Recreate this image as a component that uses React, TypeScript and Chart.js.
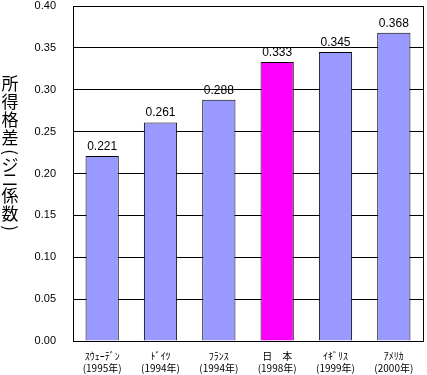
import React, { useEffect, useRef } from "react";
import { Chart, registerables } from "chart.js";

Chart.register(...registerables);

const countries: string[] = ["ｽｳｪｰﾃﾞﾝ", "ﾄﾞｲﾂ", "ﾌﾗﾝｽ", "日　本", "ｲｷﾞﾘｽ", "ｱﾒﾘｶ"];
const years: string[] = ["(1995年)", "(1994年)", "(1994年)", "(1998年)", "(1999年)", "(2000年)"];
const gini: number[] = [0.221, 0.261, 0.288, 0.333, 0.345, 0.368];
const barColors: string[] = ["#9999FF", "#9999FF", "#9999FF", "#FF00FF", "#9999FF", "#9999FF"];
const yTitle = "所得格差(ジニ係数)";

const frameAndLabels = {
  id: "frameAndLabels",
  afterDatasetsDraw(chart: any) {
    const { ctx, chartArea } = chart;
    ctx.save();
    // value labels
    const meta = chart.getDatasetMeta(0);
    ctx.fillStyle = "#000";
    ctx.font = "12px 'Liberation Sans', Arial, sans-serif";
    ctx.textAlign = "center";
    ctx.textBaseline = "alphabetic";
    meta.data.forEach((bar: any, i: number) => {
      ctx.fillText(gini[i].toFixed(3), bar.x, bar.y - 6);
    });
    // frame
    ctx.strokeStyle = "#000";
    ctx.lineWidth = 1;
    ctx.strokeRect(
      Math.round(chartArea.left) + 0.5,
      Math.round(chartArea.top) + 0.5,
      Math.round(chartArea.right - chartArea.left),
      Math.round(chartArea.bottom - chartArea.top)
    );
    // vertical title
    ctx.font = "17px 'Noto Sans CJK JP', sans-serif";
    ctx.textAlign = "center";
    ctx.textBaseline = "middle";
    let y = 75;
    const cx = 10;
    for (const ch of Array.from(yTitle)) {
      const isParen = ch === "(" || ch === ")";
      const isKana = /[\u3040-\u30ff]/.test(ch);
      const adv = isParen ? 10 : isKana ? 15 : 18;
      const cy = y + adv / 2;
      if (isParen) {
        ctx.save();
        ctx.translate(cx, cy);
        ctx.rotate(Math.PI / 2);
        ctx.fillText(ch, 0, 0);
        ctx.restore();
      } else {
        ctx.fillText(ch, cx, cy);
      }
      y += adv;
    }
    ctx.restore();
  },
};

export default function App() {
  const ref = useRef<HTMLCanvasElement>(null);
  useEffect(() => {
    const chart = new Chart(ref.current!, {
      type: "bar",
      data: {
        labels: countries.map((c, i) => [c, years[i]]),
        datasets: [
          {
            data: gini,
            backgroundColor: barColors,
            borderColor: "#000",
            borderWidth: 1,
            categoryPercentage: 1,
            barPercentage: 0.57,
          },
        ],
      },
      options: {
        animation: false,
        responsive: false,
        maintainAspectRatio: false,
        layout: { padding: { left: 0, top: 6, right: 4, bottom: 0 } },
        plugins: { legend: { display: false }, tooltip: { enabled: false } },
        scales: {
          x: {
            grid: { display: false, drawTicks: false },
            border: { display: false },
            ticks: {
              color: "#000",
              padding: 9,
              maxRotation: 0,
              autoSkip: false,
              font: { family: "'Noto Sans CJK JP', sans-serif", size: 10, lineHeight: 1.2 },
            },
            afterFit: (s: any) => {
              s.height = 34;
              s.paddingLeft = 0;
              s.paddingRight = 0;
            },
          },
          y: {
            min: 0,
            max: 0.4,
            grid: { color: "#000", drawTicks: false },
            border: { display: false },
            ticks: {
              stepSize: 0.05,
              color: "#000",
              padding: 17,
              font: { family: "'Liberation Sans', Arial, sans-serif", size: 11 },
              callback: (v: any) => Number(v).toFixed(2),
            },
            afterFit: (s: any) => {
              s.width = 73;
              s.paddingTop = 0;
              s.paddingBottom = 0;
            },
          },
        },
      },
      plugins: [frameAndLabels],
    });
    return () => chart.destroy();
  }, []);
  return (
    <div style={{ position: "fixed", left: 0, top: 0, width: 427, height: 375, background: "#fff" }}>
      <canvas ref={ref} width={427} height={375} style={{ width: 427, height: 375 }} />
    </div>
  );
}
